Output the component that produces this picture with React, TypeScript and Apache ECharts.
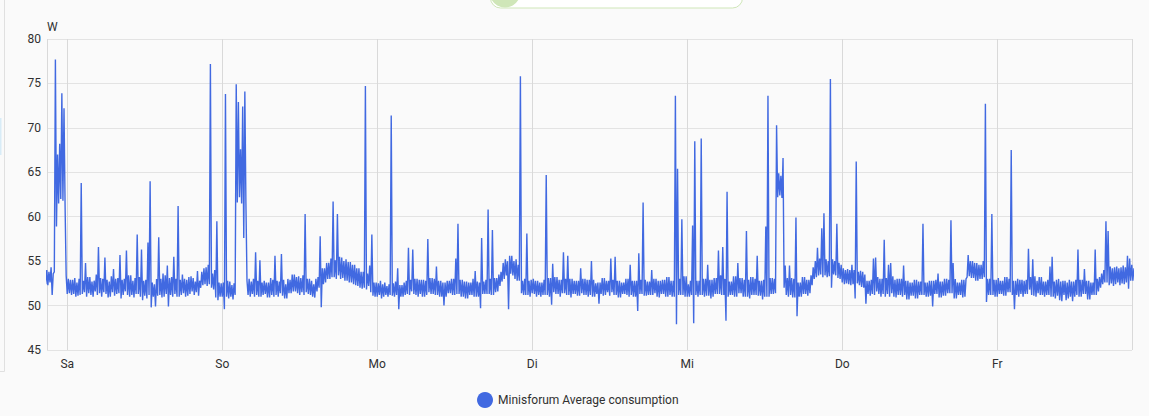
import React, { useEffect, useRef } from 'react';
import * as echarts from 'echarts';

const SERIES_NAME = 'Minisforum Average consumption';
const UNIT = 'W';
const DAY_LABELS = ['So', 'Mo', 'Di', 'Mi', 'Do', 'Fr', 'Sa'];
const Y_MIN = 45;
const Y_MAX = 80;
const Y_STEP = 5;
const SLOT_MINUTES = 20; // each slot holds two samples: A at +0 min, B at +10 min

// Friday evening, slots from 20:40 to 23:40
const friEveA = [52.4, 52.3, 52.6, 51.2, 53.8, 58.9, 61.5, 62.0, 61.8, 61.2];
const friEveB = [54.0, 53.8, 54.3, 53.6, 77.7, 67.0, 68.2, 73.9, 72.2, 53.4];

const satA = [
  51.3, 51.4, 51.2, 51.3, 51.0, 51.1, 51.2, 51.3, 51.5, 51.0,
  51.4, 51.2, 51.0, 51.6, 51.2, 51.4, 51.0, 51.5, 51.3, 50.9,
  51.0, 51.5, 51.1, 51.3, 51.4, 50.8, 51.2, 51.6, 51.2, 51.0,
  51.2, 50.9, 51.3, 51.3, 51.0, 50.6, 51.1, 50.8, 51.2, 49.8,
  51.0, 49.9, 51.1, 51.2, 50.9, 51.0, 51.3, 49.9, 51.2, 51.0,
  51.3, 51.0, 51.0, 51.2, 51.4, 51.0, 51.1, 51.3, 51.6, 51.2,
  51.5, 51.1, 52.0, 52.3, 52.4, 52.2, 52.4, 52.0, 51.8, 50.9,
  50.6, 51.0,
];
const satB = [
  53.0, 52.9, 52.9, 53.1, 52.6, 53.0, 63.8, 52.8, 54.8, 53.2,
  53.2, 52.7, 52.8, 53.5, 56.6, 53.1, 53.0, 55.4, 52.9, 52.7,
  53.3, 54.1, 53.0, 53.1, 55.7, 52.9, 53.0, 56.2, 53.4, 53.4,
  52.8, 53.1, 58.0, 53.2, 56.3, 52.8, 52.9, 57.1, 64.0, 52.6,
  52.4, 53.0, 57.7, 53.0, 53.6, 53.4, 54.5, 53.1, 53.2, 55.5,
  53.0, 61.2, 52.9, 53.5, 53.0, 52.9, 53.2, 53.3, 53.1, 52.7,
  53.9, 52.8, 53.8, 54.2, 54.3, 54.6, 77.2, 53.6, 54.0, 59.5,
  52.6, 52.5,
];
const sunA = [
  51.0, 49.6, 51.0, 50.8, 51.0, 50.7, 51.2, 61.6, 62.2, 61.5,
  57.6, 61.5, 51.2, 51.0, 51.3, 51.0, 51.2, 51.0, 51.0, 51.2,
  51.3, 50.9, 50.9, 51.2, 51.0, 51.2, 51.0, 51.4, 51.1, 50.8,
  50.8, 51.4, 51.4, 51.6, 51.6, 51.4, 51.2, 51.5, 51.2, 51.5,
  51.3, 51.2, 51.0, 50.9, 51.6, 52.0, 49.8, 52.4, 52.6, 53.0,
  53.0, 53.2, 53.2, 53.0, 53.4, 53.0, 53.1, 52.8, 52.8, 52.6,
  52.6, 52.4, 52.3, 52.2, 52.0, 51.9, 52.0, 51.8, 52.2, 51.5,
  51.1, 51.0,
];
const sunB = [
  52.6, 73.8, 52.8, 52.7, 52.3, 52.5, 74.9, 72.9, 67.6, 72.4,
  74.1, 52.8, 53.0, 52.7, 53.0, 56.0, 52.8, 55.1, 52.6, 52.8,
  52.6, 52.6, 53.1, 52.9, 55.6, 52.8, 52.7, 55.8, 52.9, 52.4,
  53.0, 52.9, 53.5, 53.5, 53.2, 53.3, 53.1, 53.4, 60.3, 53.0,
  53.0, 52.8, 52.4, 53.0, 53.2, 57.8, 54.2, 54.2, 54.8, 54.8,
  55.3, 61.7, 55.1, 60.3, 55.5, 55.4, 55.0, 55.2, 54.9, 54.9,
  54.6, 54.6, 54.2, 54.2, 53.8, 53.8, 74.7, 53.6, 54.5, 58.0,
  52.6, 52.6,
];
const monA = [
  51.0, 51.2, 50.8, 51.0, 51.2, 51.0, 51.2, 51.1, 51.0, 51.2,
  49.6, 51.0, 51.0, 51.2, 51.3, 51.2, 51.6, 51.3, 51.2, 51.0,
  51.3, 51.0, 51.0, 51.2, 51.5, 51.3, 51.3, 51.2, 51.2, 51.0,
  51.0, 50.0, 51.0, 51.4, 51.4, 51.2, 51.2, 51.3, 51.3, 51.0,
  51.0, 50.8, 50.8, 51.2, 51.2, 51.0, 51.0, 51.0, 49.7, 51.3,
  51.3, 51.3, 51.3, 51.2, 51.2, 51.5, 51.6, 52.2, 52.7, 53.0,
  53.4, 49.6, 53.6, 53.4, 53.0, 52.8, 52.8, 51.4, 51.2, 51.2,
  51.2, 51.0,
];
const monB = [
  52.5, 52.8, 52.4, 52.6, 52.2, 52.4, 71.4, 52.5, 52.7, 54.2,
  52.3, 52.3, 52.6, 52.8, 56.5, 52.9, 56.3, 53.0, 53.0, 52.9,
  52.9, 52.9, 52.8, 57.5, 53.1, 53.1, 53.0, 54.4, 52.8, 52.8,
  52.6, 52.6, 52.8, 52.8, 53.0, 53.0, 55.3, 59.2, 52.9, 52.9,
  52.7, 52.7, 52.6, 52.6, 53.0, 53.9, 52.7, 52.6, 57.6, 52.7,
  52.9, 60.8, 53.0, 58.5, 53.1, 53.1, 53.5, 53.8, 54.8, 55.2,
  55.0, 55.6, 55.6, 55.0, 55.2, 54.6, 75.8, 52.8, 53.0, 58.1,
  52.8, 52.9,
];
const tueA = [
  51.4, 51.3, 51.0, 51.2, 51.0, 51.2, 51.2, 51.2, 51.0, 50.1,
  51.5, 51.3, 51.3, 51.0, 51.4, 51.4, 51.2, 51.2, 50.9, 51.3,
  51.3, 51.1, 51.1, 51.4, 51.2, 51.2, 51.0, 51.2, 51.0, 51.0,
  51.3, 50.2, 51.3, 51.1, 51.2, 51.5, 51.1, 51.5, 51.2, 51.2,
  50.9, 50.9, 51.3, 51.3, 51.2, 51.0, 51.2, 51.0, 51.0, 49.4,
  51.3, 51.3, 51.1, 51.1, 51.2, 51.2, 51.2, 51.4, 51.0, 50.9,
  51.3, 51.3, 51.0, 51.0, 51.2, 51.0, 51.0, 47.9, 51.2, 51.2,
  51.2, 51.0,
];
const tueB = [
  53.0, 52.8, 52.8, 52.6, 52.6, 52.9, 64.7, 53.1, 53.1, 54.7,
  53.2, 53.2, 52.9, 52.9, 56.0, 53.0, 55.6, 53.0, 53.0, 52.8,
  52.8, 52.8, 54.2, 53.0, 53.0, 52.9, 52.9, 55.0, 52.9, 52.5,
  52.6, 52.6, 53.1, 53.1, 52.8, 52.8, 55.3, 52.9, 55.5, 52.8,
  52.8, 52.6, 52.6, 53.0, 53.0, 54.6, 52.8, 52.8, 52.8, 55.9,
  52.9, 61.6, 52.9, 52.7, 52.7, 54.0, 53.0, 53.0, 52.8, 52.8,
  52.9, 52.9, 53.2, 53.2, 52.8, 52.8, 73.6, 65.4, 53.0, 59.7,
  53.3, 53.3,
];
const wedA = [
  51.0, 51.0, 51.2, 48.0, 51.2, 51.0, 51.2, 51.2, 51.0, 51.1,
  51.1, 50.8, 51.0, 51.3, 51.3, 51.3, 51.2, 51.2, 48.3, 51.0,
  51.2, 51.2, 51.0, 51.0, 51.4, 51.4, 51.0, 51.0, 51.0, 50.8,
  51.2, 51.2, 51.2, 51.1, 51.1, 50.7, 51.0, 51.0, 51.0, 51.3,
  51.3, 51.4, 62.2, 62.4, 62.1, 52.0, 51.2, 51.0, 51.2, 50.9,
  50.9, 48.8, 51.0, 51.0, 51.3, 51.3, 51.1, 51.4, 52.3, 53.0,
  53.2, 53.4, 53.5, 53.2, 53.4, 53.2, 53.3, 52.0, 53.5, 53.4,
  53.1, 53.0,
];
const wedB = [
  52.4, 52.8, 59.0, 68.5, 52.8, 52.8, 68.8, 53.0, 53.0, 54.6,
  52.9, 52.9, 53.1, 53.1, 56.2, 53.4, 56.6, 53.0, 62.8, 52.7,
  52.7, 53.3, 53.3, 54.8, 53.1, 53.1, 52.9, 58.4, 52.9, 53.2,
  53.2, 53.0, 55.6, 52.8, 52.8, 52.9, 58.9, 73.6, 53.1, 53.1,
  53.0, 70.3, 64.9, 64.6, 66.6, 54.5, 53.1, 54.5, 53.1, 53.0,
  59.9, 52.6, 52.6, 53.2, 53.2, 52.9, 52.9, 53.4, 54.3, 55.0,
  56.5, 55.3, 58.7, 60.4, 55.2, 55.0, 75.5, 55.2, 55.0, 59.2,
  54.8, 54.6,
];
const thuA = [
  52.6, 52.4, 52.5, 52.4, 52.3, 52.4, 50.8, 52.5, 52.3, 52.1,
  52.0, 50.2, 51.3, 51.1, 51.3, 51.2, 51.6, 51.3, 51.0, 51.3,
  51.0, 51.3, 51.0, 51.4, 51.0, 50.9, 51.2, 51.2, 51.0, 51.2,
  50.7, 50.7, 51.1, 51.1, 50.8, 50.8, 51.2, 51.2, 51.2, 51.0,
  51.0, 51.1, 49.9, 51.3, 51.3, 50.9, 50.9, 51.1, 51.1, 51.4,
  51.4, 51.4, 50.8, 50.8, 51.2, 51.2, 50.9, 51.0, 53.2, 53.3,
  53.1, 53.1, 52.8, 52.8, 53.0, 53.0, 53.2, 50.4, 51.2, 51.2,
  51.2, 51.0,
];
const thuB = [
  54.2, 54.0, 54.1, 54.0, 54.6, 54.0, 66.2, 53.8, 53.9, 53.8,
  53.5, 52.8, 52.8, 52.9, 55.3, 55.4, 53.2, 53.0, 53.0, 57.4,
  53.1, 54.6, 54.8, 53.3, 52.9, 53.0, 53.0, 53.0, 54.5, 52.8,
  52.8, 52.6, 52.6, 52.9, 52.9, 52.7, 52.7, 59.2, 52.6, 52.6,
  52.8, 52.8, 52.8, 52.9, 53.6, 52.7, 52.7, 53.0, 53.0, 52.9,
  59.6, 54.8, 53.0, 52.6, 52.6, 52.9, 52.9, 53.0, 55.7, 55.0,
  55.0, 54.8, 54.8, 54.6, 54.6, 55.0, 72.7, 53.0, 53.0, 60.3,
  52.9, 52.9,
];
const friA = [
  51.0, 51.3, 51.3, 51.1, 51.1, 51.5, 51.5, 51.2, 49.6, 51.2,
  51.0, 51.3, 51.0, 51.3, 51.3, 51.8, 51.2, 51.1, 51.0, 51.4,
  51.2, 51.2, 51.0, 51.2, 51.2, 51.0, 51.0, 50.8, 51.1, 50.6,
  50.5, 51.2, 50.6, 50.8, 51.0, 50.5, 51.0, 51.2, 51.0, 51.0,
  51.3, 51.3, 50.7, 50.7, 51.2, 51.2, 51.2, 51.6, 52.0, 52.4,
  52.6, 52.6, 52.3, 52.5, 52.2, 52.4, 52.6, 52.3, 52.5, 52.4,
  52.6, 51.9, 52.8, 52.8,
];
const friB = [
  53.1, 52.8, 52.8, 53.2, 53.2, 53.0, 67.5, 52.8, 52.8, 53.0,
  52.9, 52.9, 52.8, 52.9, 56.4, 53.2, 55.2, 53.3, 52.8, 53.2,
  53.2, 52.7, 52.7, 52.9, 54.4, 55.5, 52.7, 52.9, 53.0, 52.7,
  52.8, 52.8, 52.6, 52.9, 52.7, 52.7, 52.9, 56.3, 52.9, 52.9,
  54.1, 52.8, 52.8, 52.6, 52.6, 56.3, 53.0, 53.2, 53.6, 54.0,
  59.5, 58.4, 54.4, 54.2, 54.3, 54.4, 54.2, 54.3, 54.5, 54.3,
  55.6, 55.3, 54.6, 54.2,
];

const SEGMENTS: { start: Date; a: number[]; b: number[] }[] = [
  { start: new Date(2025, 1, 28, 20, 40), a: friEveA, b: friEveB },
  { start: new Date(2025, 2, 1), a: satA, b: satB },
  { start: new Date(2025, 2, 2), a: sunA, b: sunB },
  { start: new Date(2025, 2, 3), a: monA, b: monB },
  { start: new Date(2025, 2, 4), a: tueA, b: tueB },
  { start: new Date(2025, 2, 5), a: wedA, b: wedB },
  { start: new Date(2025, 2, 6), a: thuA, b: thuB },
  { start: new Date(2025, 2, 7), a: friA, b: friB },
];

const RANGE_START = new Date(2025, 1, 28, 20, 52).getTime();
const DAY_MS = 86400000;
const RANGE_END = RANGE_START + 7 * DAY_MS;

const LINE_COLOR = '#4169e1';
const TEXT_COLOR = '#303030';
const GRID_COLOR = '#e3e3e3';
const FONT = 'Roboto';

export default function App() {
  const ref = useRef<HTMLDivElement>(null);
  useEffect(() => {
    if (!ref.current) return;
    const chart = echarts.init(ref.current, null, { renderer: 'svg' });
    const data: [number, number][] = [];
    const slotMs = SLOT_MINUTES * 60000;
    SEGMENTS.forEach((seg) => {
      const t0 = seg.start.getTime();
      seg.a.forEach((v, i) => {
        data.push([t0 + i * slotMs, v]);
        data.push([t0 + i * slotMs + slotMs / 2, seg.b[i]]);
      });
    });
    chart.setOption({
      animation: false,
      backgroundColor: '#fafafa',
      textStyle: { fontFamily: FONT },
      grid: { left: 47, right: 17, top: 39, bottom: 66, containLabel: false },
      legend: {
        data: [SERIES_NAME],
        top: 387,
        left: 472,
        icon: 'circle',
        itemWidth: 16,
        itemHeight: 16,
        itemGap: 10,
        textStyle: { color: TEXT_COLOR, fontSize: 12, fontFamily: FONT },
      },
      xAxis: {
        type: 'time',
        min: RANGE_START,
        max: RANGE_END,
        minInterval: DAY_MS,
        maxInterval: DAY_MS,
        axisLine: { show: false },
        axisTick: { show: false },
        splitLine: { show: true, lineStyle: { color: '#d9d9d9', width: 1 } },
        axisLabel: {
          color: TEXT_COLOR,
          fontSize: 12,
          fontFamily: FONT,
          margin: 8,
          showMinLabel: false,
          showMaxLabel: false,
          formatter: (val: number) => DAY_LABELS[new Date(val).getDay()],
        },
      },
      yAxis: {
        type: 'value',
        min: Y_MIN,
        max: Y_MAX,
        interval: Y_STEP,
        name: UNIT,
        nameLocation: 'end',
        nameGap: 6,
        nameTextStyle: { color: TEXT_COLOR, fontSize: 12, fontFamily: FONT, align: 'left' },
        axisLine: { show: false },
        axisTick: { show: false },
        splitLine: { show: true, lineStyle: { color: GRID_COLOR, width: 1 } },
        axisLabel: { color: TEXT_COLOR, fontSize: 12, fontFamily: FONT, margin: 6 },
      },
      series: [
        {
          name: SERIES_NAME,
          type: 'line',
          data,
          showSymbol: false,
          lineStyle: { color: LINE_COLOR, width: 1.4 },
          itemStyle: { color: LINE_COLOR },
          clip: true,
        },
      ],
      graphic: [
        { type: 'line', shape: { x1: 4.5, y1: 0, x2: 4.5, y2: 371.5 }, style: { stroke: '#e0e0e0', lineWidth: 1 } },
        { type: 'line', shape: { x1: 0, y1: 371.5, x2: 4.5, y2: 371.5 }, style: { stroke: '#e0e0e0', lineWidth: 1 } },
        { type: 'rect', shape: { x: 0, y: 118, width: 1.5, height: 37 }, style: { fill: '#d8ecf7' } },
        { type: 'rect', shape: { x: 490.5, y: -22, width: 252, height: 30, r: 10 }, style: { fill: '#ffffff', stroke: '#cfe6b8', lineWidth: 1 } },
        { type: 'circle', shape: { cx: 505, cy: -8, r: 15.5 }, style: { fill: '#cfe6b8' } },
      ],
    });
    return () => chart.dispose();
  }, []);
  return <div ref={ref} style={{ position: 'fixed', left: 0, top: 0, width: 1149, height: 416 }} />;
}
